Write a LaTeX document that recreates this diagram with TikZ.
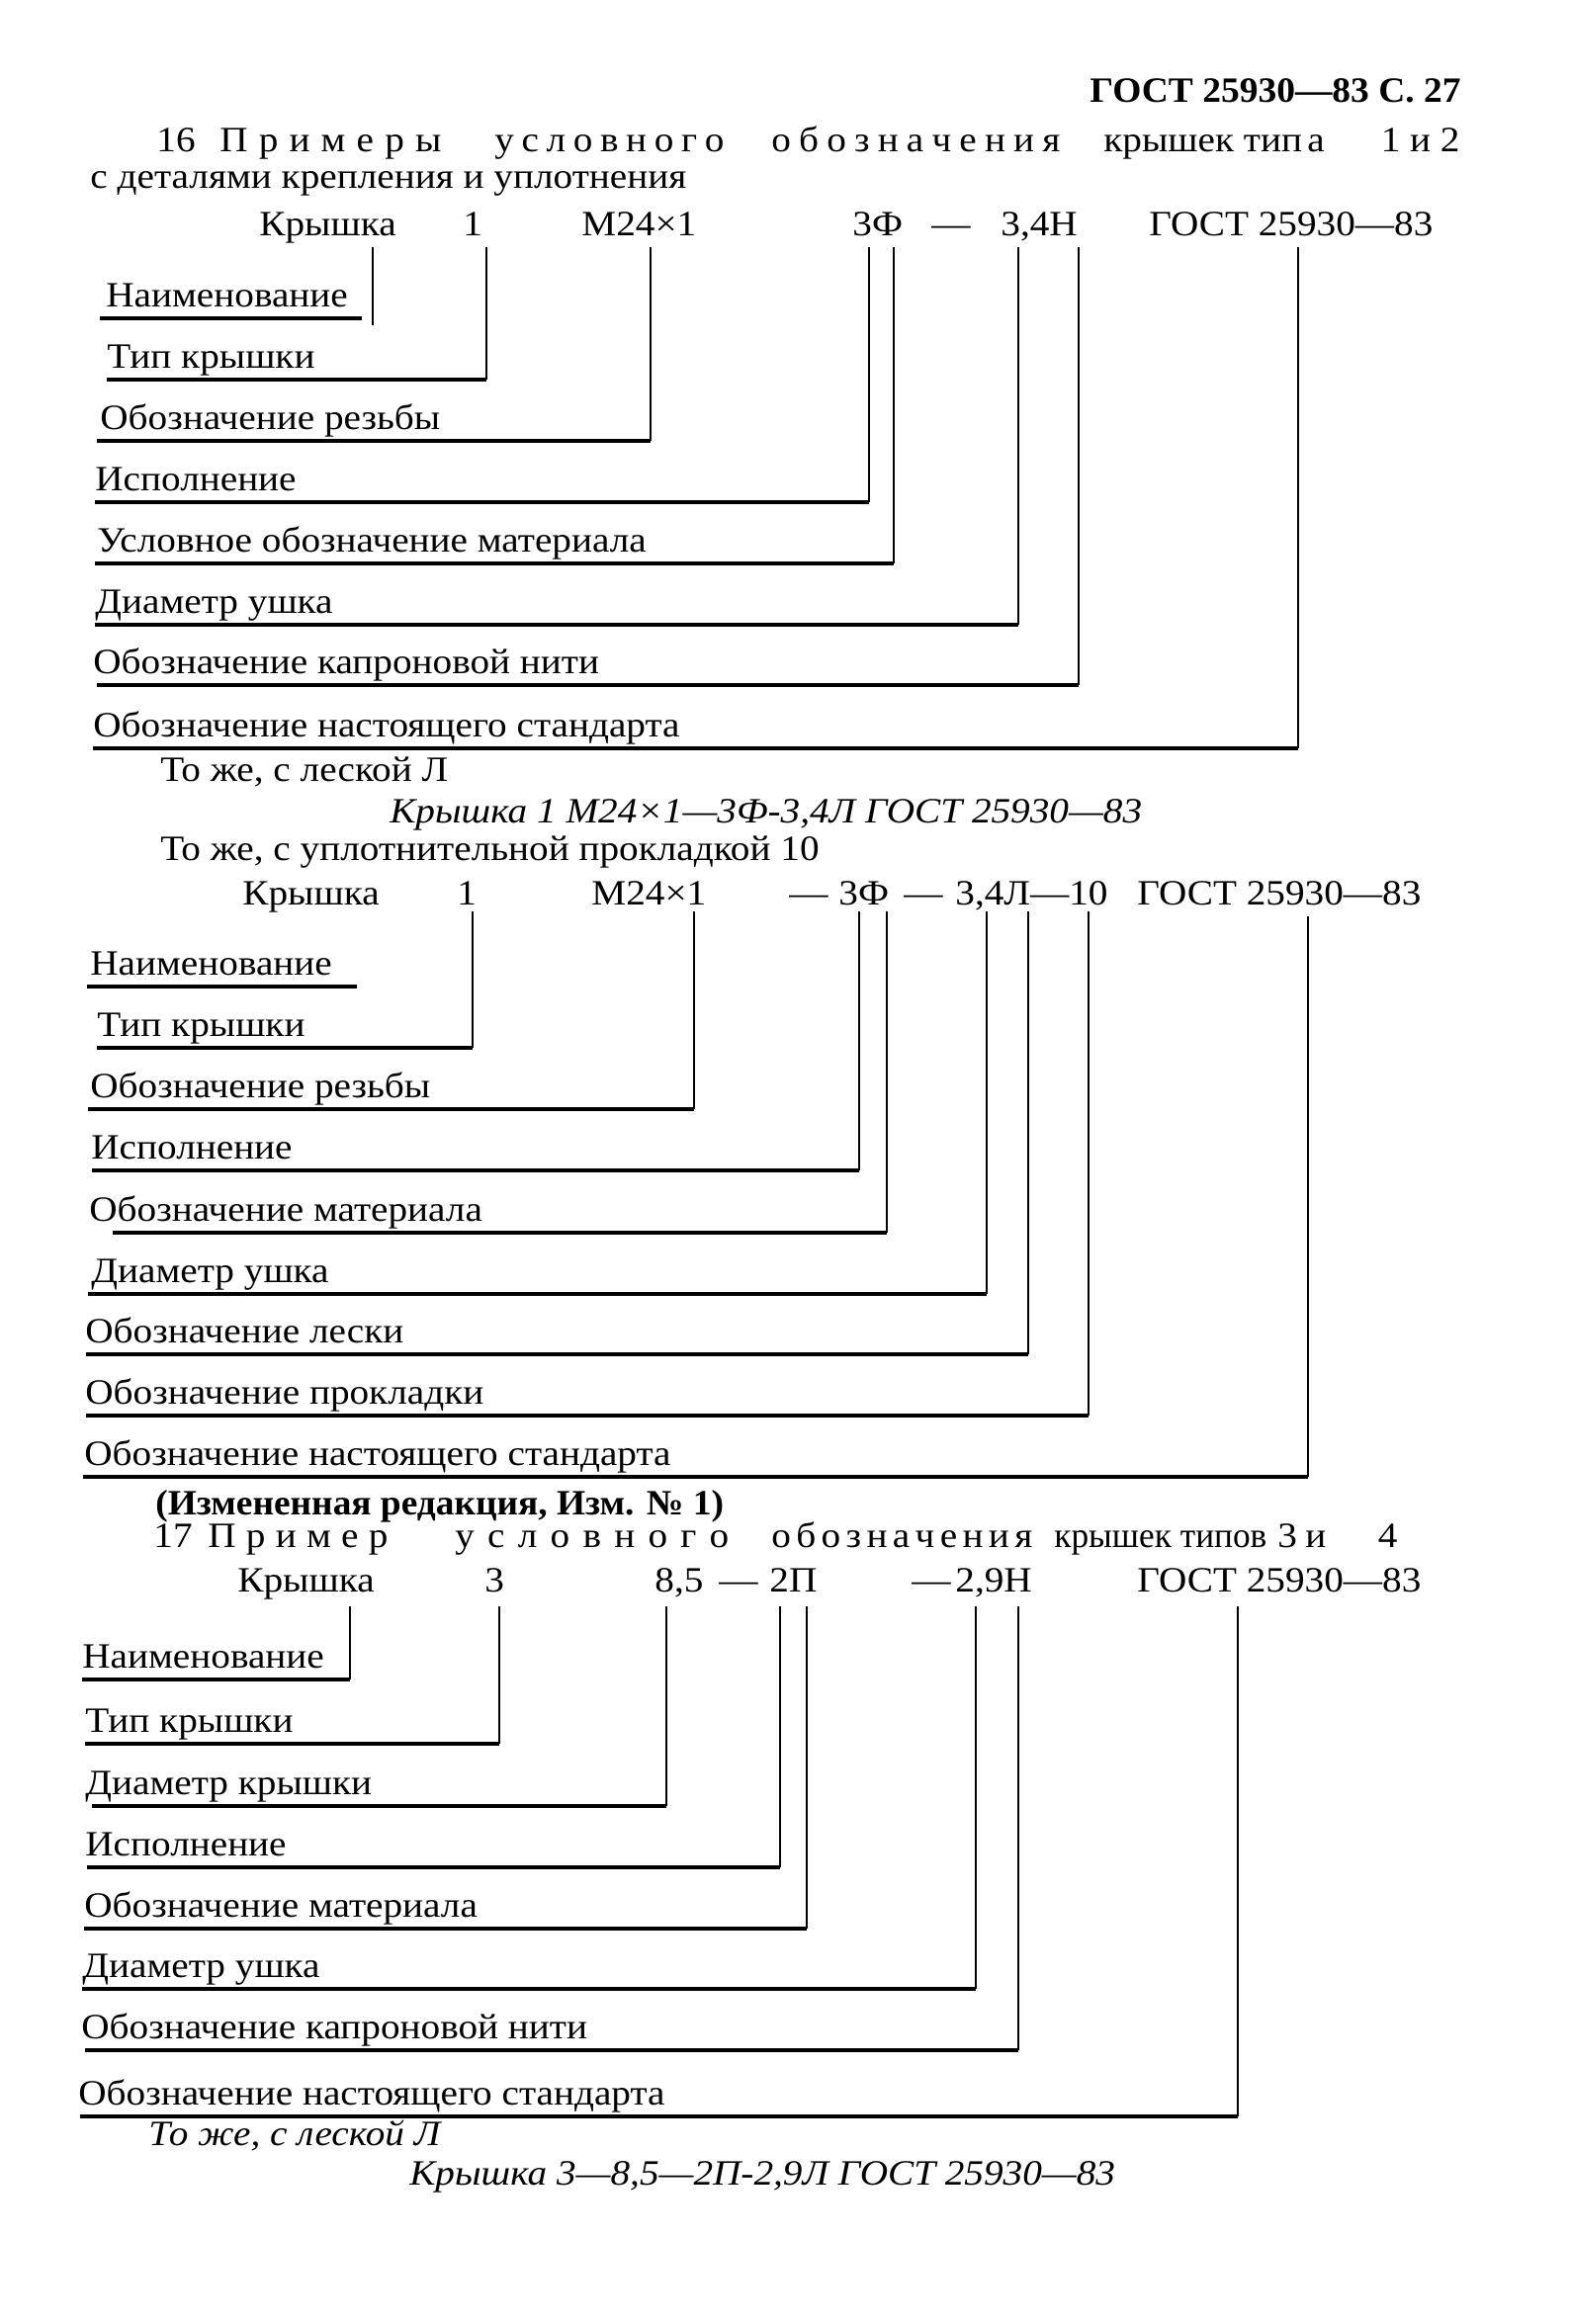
\documentclass[tikz,border=0pt]{standalone}
\usepackage{graphicx}
\usepackage{fontspec}
\setmainfont{Liberation Serif}[FakeStretch=1.09]
\newcommand\bodysize{\fontsize{18pt}{21pt}\selectfont}
\newcommand\spw[2]{\hbox to #1pt{#2}}
\tikzset{
  lbl/.style={anchor=base west, inner sep=0pt, font=\bodysize},
  lble/.style={anchor=base east, inner sep=0pt, font=\bodysize},
  vl/.style={line width=1pt},
  hl/.style={line width=1.6pt},
}
% name, text x, underline start x, underline y, vertical x, top y, text
\newcommand\lrow[7]{%
  \node[lbl] (#1) at (#2,{#4-12}) {#7};
  \coordinate (#1-t) at (#5,#6);
  \coordinate (#1-u) at (#3,#4);
  \draw[vl] (#1-t) -- (#1-t |- #1-u);
  \draw[hl] (#1-u) -- (#1-t |- #1-u);
}
\begin{document}
\begin{tikzpicture}[x=0.5pt,y=-0.5pt]
\useasboundingbox (0,0) rectangle (1586,2351);
% header
\node[lble, font=\bodysize\bfseries] (hdr) at (1478,103) {\scalebox{0.955}[1]{ГОСТ 25930—83 С. 27}};
% ---------- section 16
\node[lbl] (t1a) at (158,153) {16};
\node[lbl] (t1b) at (222,153) {\spw{112}{П\hfil р\hfil и\hfil м\hfil е\hfil р\hfil ы}};
\node[lbl] (t1c) at (500,153) {\spw{116}{у\hfil с\hfil л\hfil о\hfil в\hfil н\hfil о\hfil г\hfil о}};
\node[lbl] (t1d) at (780,153) {\spw{146}{о\hfil б\hfil о\hfil з\hfil н\hfil а\hfil ч\hfil е\hfil н\hfil и\hfil я}};
\node[lbl] (t1e) at (1116,153) {крышек тип};
\node[lbl] (t1f) at (1322,153) {а};
\node[lble] (t1g) at (1477,153) {1 и 2};
\node[lbl] (t1h) at (91,190) {с деталями крепления и уплотнения};
% designation row 1
\node[lbl] (r1a) at (262,238) {Крышка};
\node[lbl] (r1b) at (468,238) {1};
\node[lbl] (r1c) at (588,238) {М24×1};
\node[lbl] (r1d) at (862,238) {3Ф};
\node[lbl] (r1e) at (942,238) {—};
\node[lbl] (r1f) at (1012,238) {3,4Н};
\node[lbl] (r1g) at (1162,238) {ГОСТ 25930—83};
% leaders
\node[lbl] (a1) at (107,310) {Наименование};
\coordinate (a1-t) at (377,250);
\coordinate (a1-b) at (377,329);
\coordinate (a1-u) at (101,322);
\coordinate (a1-e) at (366,322);
\draw[vl] (a1-t) -- (a1-b);
\draw[hl] (a1-u) -- (a1-e);
\lrow{a2}{108}{108}{384}{492}{250}{Тип крышки}
\lrow{a3}{101}{98}{446}{658}{250}{Обозначение резьбы}
\lrow{a4}{96}{96}{508}{879}{250}{Исполнение}
\lrow{a5}{98}{96}{570}{904}{250}{Условное обозначение материала}
\lrow{a6}{96}{96}{632}{1030}{250}{Диаметр ушка}
\lrow{a7}{94}{98}{693}{1091}{250}{Обозначение капроновой нити}
\lrow{a8}{94}{94}{757}{1313}{250}{Обозначение настоящего стандарта}
% ---------- variants
\node[lbl] (v1) at (162,790) {То же, с леской Л};
\node[lbl, font=\bodysize\itshape] (v2) at (394,832) {Крышка 1 М24×1—3Ф-3,4Л ГОСТ 25930—83};
\node[lbl] (v3) at (162,870) {То же, с уплотнительной прокладкой 10};
% designation row 2
\node[lbl] (r2a) at (245,915) {Крышка};
\node[lbl] (r2b) at (462,915) {1};
\node[lbl] (r2c) at (598,915) {М24×1};
\node[lbl] (r2d) at (798,915) {—};
\node[lbl] (r2e) at (848,915) {3Ф};
\node[lbl] (r2f) at (914,915) {—};
\node[lbl] (r2g) at (966,915) {3,4Л—10};
\node[lbl] (r2h) at (1150,915) {ГОСТ 25930—83};
\node[lbl] (b1) at (91,986) {Наименование};
\coordinate (b1-u) at (88,998);
\coordinate (b1-e) at (361,998);
\draw[hl] (b1-u) -- (b1-e);
\lrow{b2}{98}{98}{1060}{478}{922}{Тип крышки}
\lrow{b3}{91}{89}{1122}{702}{922}{Обозначение резьбы}
\lrow{b4}{92}{93}{1184}{869}{922}{Исполнение}
\lrow{b5}{90}{114}{1247}{897}{922}{Обозначение материала}
\lrow{b6}{92}{89}{1309}{998}{922}{Диаметр ушка}
\lrow{b7}{86}{87}{1370}{1040}{922}{Обозначение лески}
\lrow{b8}{86}{87}{1432}{1101}{922}{Обозначение прокладки}
\lrow{b9}{85}{84}{1494}{1323}{927}{Обозначение настоящего стандарта}
% ---------- section 17
\node[lbl, font=\bodysize\bfseries] (m1) at (157,1532) {\scalebox{0.953}[1]{(Измененная редакция, Изм. № 1)}};
\node[lbl] (t2a) at (155,1565) {17};
\node[lbl] (t2b) at (210,1565) {\spw{91}{П\hfil р\hfil и\hfil м\hfil е\hfil р}};
\node[lbl] (t2c) at (460,1565) {\spw{138.5}{у\hfil с\hfil л\hfil о\hfil в\hfil н\hfil о\hfil г\hfil о}};
\node[lbl] (t2d) at (780,1565) {\spw{132}{о\hfil б\hfil о\hfil з\hfil н\hfil а\hfil ч\hfil е\hfil н\hfil и\hfil я}};
\node[lbl] (t2e) at (1066,1565) {\scalebox{0.9}[1]{крышек типов}};
\node[lbl] (t2g) at (1292,1565) {3};
\node[lbl] (t2h) at (1320,1565) {и};
\node[lble] (t2i) at (1414,1565) {4};
% designation row 3
\node[lbl] (r3a) at (240,1610) {Крышка};
\node[lbl] (r3b) at (490,1610) {3};
\node[lbl] (r3c) at (662,1610) {8,5};
\node[lbl] (r3d) at (727,1610) {—};
\node[lbl] (r3e) at (778,1610) {2П};
\node[lbl] (r3f) at (922,1610) {—};
\node[lbl] (r3g) at (966,1610) {2,9Н};
\node[lbl] (r3h) at (1150,1610) {ГОСТ 25930—83};
\lrow{c1}{83}{83}{1699}{354}{1625}{Наименование}
\lrow{c2}{86}{86}{1764}{505}{1625}{Тип крышки}
\lrow{c3}{86}{93}{1827}{674}{1625}{Диаметр крышки}
\lrow{c4}{86}{88}{1889}{789}{1625}{Исполнение}
\lrow{c5}{85}{85}{1951}{816}{1625}{Обозначение материала}
\lrow{c6}{83}{83}{2012}{987}{1625}{Диаметр ушка}
\lrow{c7}{82}{86}{2074}{1030}{1625}{Обозначение капроновой нити}
\lrow{c8}{79}{81}{2141}{1252}{1625}{Обозначение настоящего стандарта}
\node[lbl, font=\bodysize\itshape] (w1) at (150,2170) {То же, с леской Л};
\node[lbl, font=\bodysize\itshape] (w2) at (414,2210) {Крышка 3—8,5—2П-2,9Л ГОСТ 25930—83};
\end{tikzpicture}
\end{document}
